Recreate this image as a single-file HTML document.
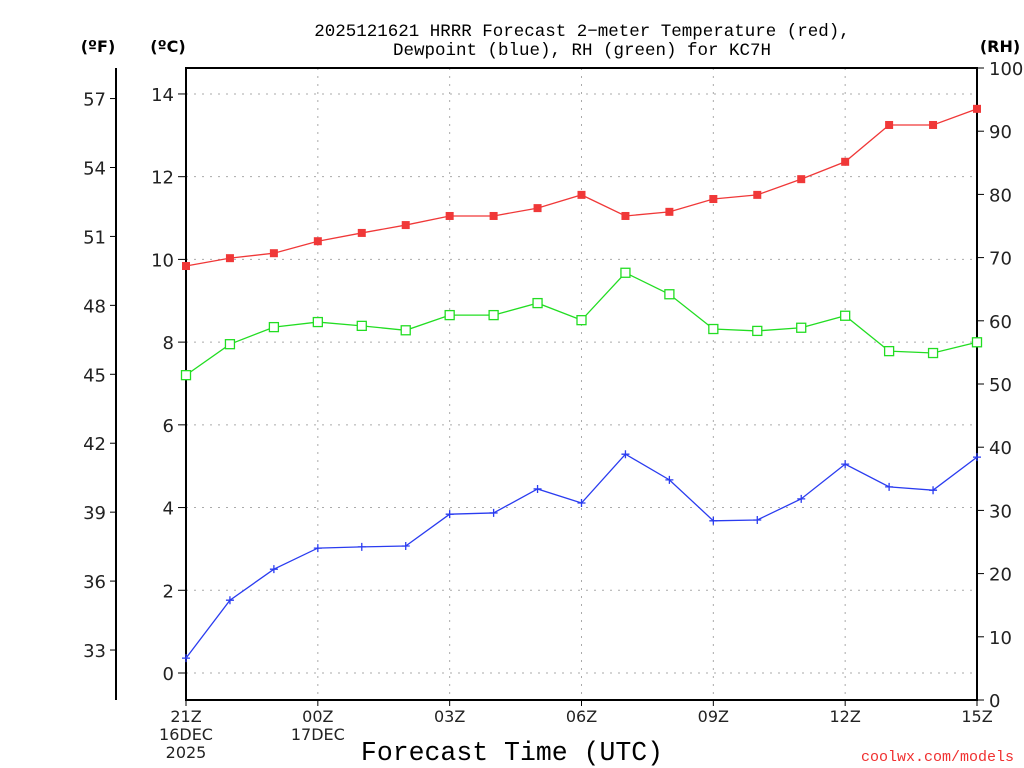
<!DOCTYPE html>
<html><head><meta charset="utf-8"><style>
html,body{margin:0;padding:0;background:#fff;}
svg{display:block;font-family:"DejaVu Sans","Liberation Sans",sans-serif;}
</style></head><body>
<svg id="chart" width="1024" height="768" viewBox="0 0 1024 768">
<text x="582" y="36" text-anchor="middle" font-size="17.5" font-family="Liberation Mono, monospace">2025121621 HRRR Forecast 2−meter Temperature (red),</text>
<text x="582" y="55" text-anchor="middle" font-size="17.5" font-family="Liberation Mono, monospace">Dewpoint (blue), RH (green) for KC7H</text>
<text x="98" y="52" text-anchor="middle" font-size="16" font-weight="bold">(ºF)</text>
<text x="168" y="52" text-anchor="middle" font-size="16" font-weight="bold">(ºC)</text>
<text x="1000" y="52" text-anchor="middle" font-size="16" font-weight="bold">(RH)</text>
<text x="512" y="760" text-anchor="middle" font-size="26.5" font-family="Liberation Mono, monospace">Forecast Time (UTC)</text>
<text x="1014" y="761" text-anchor="end" font-size="15" fill="#f03030" font-family="Liberation Mono, monospace">coolwx.com/models</text>
<g id="grid"></g><g id="axes"></g><g id="series"></g>
</svg>
<script>
const hours = [0,1,2,3,4,5,6,7,8,9,10,11,12,13,14,15,16,17,18];
const tempC = [9.84,10.03,10.15,10.44,10.64,10.83,11.05,11.05,11.24,11.56,11.05,11.15,11.46,11.56,11.94,12.36,13.25,13.25,13.64];
const dewC = [0.36,1.76,2.51,3.02,3.05,3.07,3.84,3.87,4.45,4.11,5.29,4.67,3.68,3.70,4.21,5.05,4.50,4.42,5.22];
const rh = [51.4,56.3,59.0,59.8,59.2,58.5,60.9,60.9,62.8,60.1,67.6,64.2,58.7,58.4,58.9,60.8,55.2,54.9,56.6];
const cTicks = [0,2,4,6,8,10,12,14];
const fTicks = [33,36,39,42,45,48,51,54,57];
const rhTicks = [0,10,20,30,40,50,60,70,80,90,100];
const xTickHours = [0,3,6,9,12,15,18];
const xTickLabels = [["21Z","16DEC","2025"],["00Z","17DEC"],["03Z"],["06Z"],["09Z"],["12Z"],["15Z"]];

const L=186,R=977,T=68,B=700;
const xS=h=>L+(R-L)*h/18;
const yC=c=>673-c*41.36;
const yF=f=>yC((f-32)*5/9);
const yRH=r=>B-(B-T)*r/100;
const NS="http://www.w3.org/2000/svg";
function mk(tag,attrs,parent,txt){const e=document.createElementNS(NS,tag);for(const k in attrs)e.setAttribute(k,attrs[k]);if(txt!==undefined)e.textContent=txt;parent.appendChild(e);return e;}
const grid=document.getElementById('grid'),axes=document.getElementById('axes'),ser=document.getElementById('series');

cTicks.forEach(c=>{const y=yC(c);
 const g=mk('line',{x1:L,x2:R,y1:y,y2:y,stroke:'#aaa','stroke-dasharray':'2,6'},grid);
 
 mk('line',{x1:L-8,x2:L,y1:y,y2:y,stroke:'#000'},axes);
 const t=mk('text',{x:L-12,y:y+7,'text-anchor':'end','font-size':'18',fill:'#222'},axes,String(c));
 });
xTickHours.forEach((h,i)=>{const x=xS(h);
 if(h>0&&h<18){const g=mk('line',{x1:x,x2:x,y1:T,y2:B,stroke:'#aaa','stroke-dasharray':'2,6'},grid);
 }
 mk('line',{x1:x,x2:x,y1:B,y2:B+6,stroke:'#000'},axes);
 xTickLabels[i].forEach((s,j)=>{const t=mk('text',{x:x,y:722+j*18,'text-anchor':'middle','font-size':'16',fill:'#222'},axes,s);
 });});
mk('line',{x1:116,x2:116,y1:T,y2:B,stroke:'#000','stroke-width':2},axes);
fTicks.forEach(f=>{const y=yF(f);mk('line',{x1:110,x2:116,y1:y,y2:y,stroke:'#000'},axes);
 const t=mk('text',{x:106,y:y+7,'text-anchor':'end','font-size':'18',fill:'#222'},axes,String(f));
 });
rhTicks.forEach(r=>{const y=yRH(r);mk('line',{x1:R,x2:R+7,y1:y,y2:y,stroke:'#000'},axes);
 const t=mk('text',{x:R+12,y:y+7,'text-anchor':'start','font-size':'18',fill:'#222'},axes,String(r));
 });
const fr=mk('rect',{x:L,y:T,width:R-L,height:B-T,fill:'none',stroke:'#000','stroke-width':2},axes);


function series(vals,yf,color,name,marker){
 const pts=vals.map((v,i)=>[xS(hours[i]),yf(v)]);
 const pl=mk('polyline',{points:pts.map(p=>p.join(',')).join(' '),fill:'none',stroke:color,'stroke-width':1.3},ser);
 
 pts.forEach(p=>{let m;
  if(marker==='fill')m=mk('rect',{x:p[0]-4,y:p[1]-4,width:8,height:8,fill:color},ser);
  else if(marker==='open')m=mk('rect',{x:p[0]-4.5,y:p[1]-4.5,width:9,height:9,fill:'#fff',stroke:color,'stroke-width':1.3},ser);
  else m=mk('path',{d:`M${p[0]-4},${p[1]}h8M${p[0]},${p[1]-4}v8`,stroke:color,'stroke-width':1.3},ser);
  });}
series(rh,yRH,'#22dd22','rh','open');
series(tempC,yC,'#f03838','temperature','fill');
series(dewC,yC,'#2a3cf0','dewpoint','plus');
</script>
</body></html>
